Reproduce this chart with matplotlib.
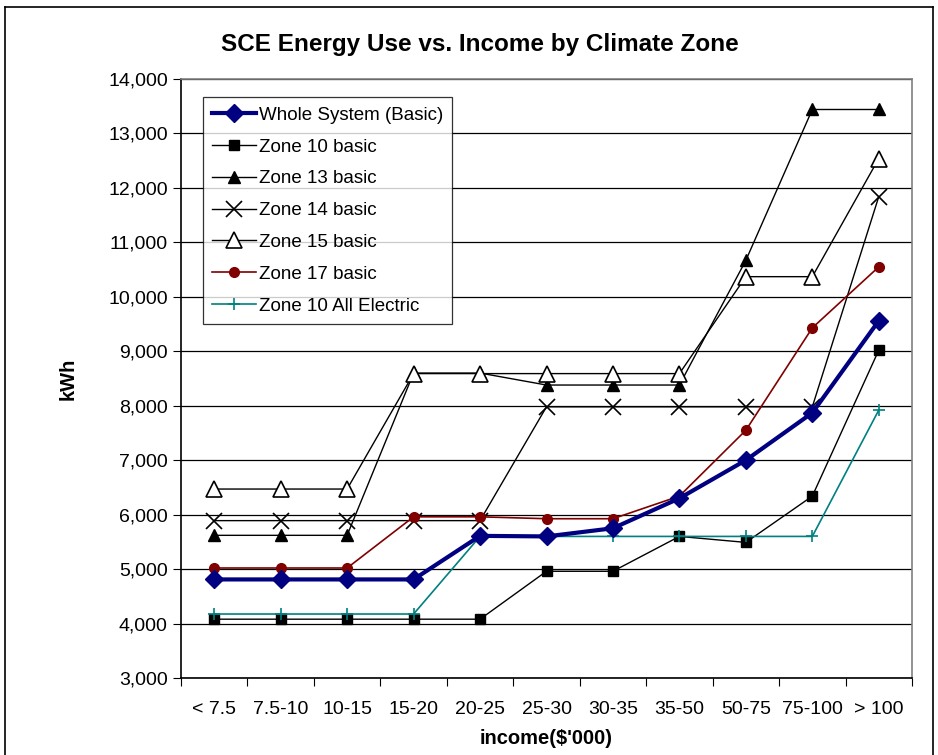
import matplotlib
matplotlib.use("Agg")
import matplotlib.pyplot as plt
from matplotlib.ticker import FuncFormatter, FixedLocator
from matplotlib.lines import Line2D

plt.rcParams['font.family'] = ['Liberation Sans', 'DejaVu Sans']

income_bands = ["< 7.5", "7.5-10", "10-15", "15-20", "20-25", "25-30",
                "30-35", "35-50", "50-75", "75-100", "> 100"]

whole_system = [4810, 4810, 4810, 4810, 5610, 5600, 5750, 6300, 7000, 7870, 9560]
zone10_basic = [4080, 4080, 4080, 4080, 4080, 4960, 4960, 5600, 5490, 6340, 9020]
zone13_basic = [5620, 5620, 5620, 8600, 8600, 8380, 8380, 8380, 10670, 13440, 13440]
zone14_basic = [5890, 5890, 5890, 5890, 5890, 7980, 7980, 7980, 7980, 7980, 11840]
zone15_basic = [6470, 6470, 6470, 8590, 8590, 8590, 8590, 8590, 10370, 10370, 12540]
zone17_basic = [5020, 5020, 5020, 5960, 5960, 5925, 5925, 6340, 7550, 9430, 10550]
zone10_elec = [4175, 4175, 4175, 4175, 5600, 5600, 5600, 5600, 5600, 5600, 7920]

fig = plt.figure(figsize=(9.38, 7.55), dpi=100)
ax = fig.add_axes([181 / 938, 1 - 678 / 755, (912 - 181) / 938, (678 - 79) / 755])

x = list(range(len(income_bands)))

ax.plot(x, zone10_basic, color="black", lw=1.0, marker="s", ms=7,
        mfc="black", mec="black", label="Zone 10 basic", zorder=3)
ax.plot(x, zone13_basic, color="black", lw=1.0, marker="^", ms=8,
        mfc="black", mec="black", label="Zone 13 basic", zorder=3)
ax.plot(x, zone14_basic, color="black", lw=1.0, marker="x", ms=11, mew=1.2,
        mec="black", label="Zone 14 basic", zorder=3)
ax.plot(x, zone15_basic, color="black", lw=1.0, marker="^", ms=12, mew=1.2,
        mfc="white", mec="black", label="Zone 15 basic", zorder=3)
ax.plot(x, zone17_basic, color="#800000", lw=1.2, marker="o", ms=7,
        mfc="#800000", mec="#800000", label="Zone 17 basic", zorder=4)
ax.plot(x, zone10_elec, color="#008080", lw=1.2, marker="+", ms=9, mew=1.2,
        mec="#008080", label="Zone 10 All Electric", zorder=4)
ax.plot(x, whole_system, color="#000080", lw=3.0, marker="D", ms=9,
        mfc="#000080", mec="#000080", label="Whole System (Basic)", zorder=5)

ax.set_xlim(-0.5, len(income_bands) - 0.5)
ax.set_ylim(3000, 14000)
ax.set_yticks(range(3000, 14001, 1000))
ax.yaxis.set_major_formatter(FuncFormatter(lambda v, p: f"{int(v):,}"))
ax.yaxis.grid(True, color="black", lw=0.9)
ax.set_axisbelow(True)

# category boundaries carry the tick marks, labels sit at the centres
ax.xaxis.set_major_locator(FixedLocator([i - 0.5 for i in range(len(income_bands) + 1)]))
ax.xaxis.set_minor_locator(FixedLocator(x))
ax.set_xticklabels([])
ax.set_xticklabels(income_bands, minor=True)
ax.tick_params(axis="x", which="major", length=6, direction="out", color="black")
ax.tick_params(axis="x", which="minor", length=0, pad=16.5, labelsize=14)
ax.tick_params(axis="y", length=6, direction="out", labelsize=14, pad=3.5)

for side in ("top", "right"):
    ax.spines[side].set_color("#808080")
    ax.spines[side].set_linewidth(1.2)
for side in ("left", "bottom"):
    ax.spines[side].set_color("black")
    ax.spines[side].set_linewidth(1.2)

ax.set_xlabel("income($'000)", fontsize=14.5, fontweight="bold", labelpad=8)
ax.set_ylabel("kWh", fontsize=14.5, fontweight="bold", labelpad=22)
fig.text(0.512, 1 - 45 / 755, "SCE Energy Use vs. Income by Climate Zone",
         ha="center", va="center", fontsize=17.5, fontweight="bold")

order = ["Whole System (Basic)", "Zone 10 basic", "Zone 13 basic", "Zone 14 basic",
         "Zone 15 basic", "Zone 17 basic", "Zone 10 All Electric"]
handles, labels = ax.get_legend_handles_labels()
lookup = dict(zip(labels, handles))
leg = ax.legend([lookup[k] for k in order], order, loc="upper left",
                bbox_to_anchor=(0.030, 0.970), fontsize=13.5, frameon=True,
                fancybox=False, edgecolor="black", handlelength=2.3,
                labelspacing=0.785, borderpad=0.51, handletextpad=0.16,
                borderaxespad=0)
leg.get_frame().set_linewidth(0.9)

# outer chart frame
for xs, ys in (([5, 5], [0, 748]), ([5, 933], [748, 748]), ([933, 933], [748, 0])):
    fig.add_artist(Line2D([v / 938 for v in xs], [v / 755 for v in ys],
                          color="black", lw=1.2, transform=fig.transFigure))

fig.savefig("out.png", dpi=100)
